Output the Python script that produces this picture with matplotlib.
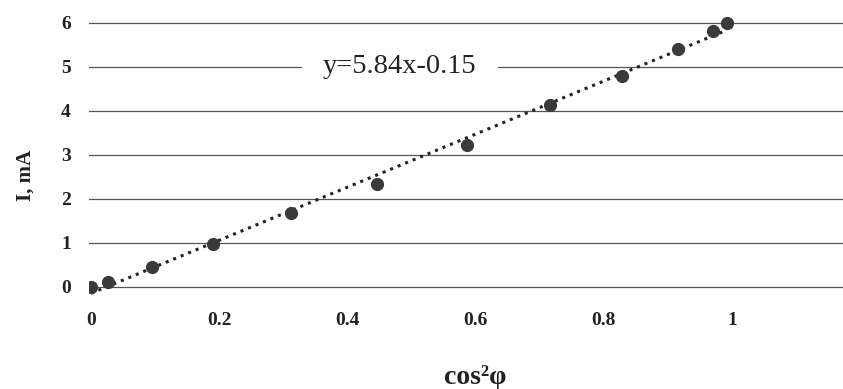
import numpy as np
import matplotlib
matplotlib.use("Agg")
import matplotlib.pyplot as plt

# data
cos2_phi = [0.0, 0.027, 0.095, 0.19, 0.312, 0.446, 0.587, 0.716, 0.828, 0.916, 0.970, 0.992]
current_mA = [0.0, 0.11, 0.45, 0.98, 1.68, 2.34, 3.22, 4.13, 4.79, 5.40, 5.81, 6.0]
x_ticks = [0, 0.2, 0.4, 0.6, 0.8, 1]
x_tick_labels = ["0", "0.2", "0.4", "0.6", "0.8", "1"]
y_ticks = [0, 1, 2, 3, 4, 5, 6]
equation = "y=5.84x-0.15"

plt.rcParams['font.family'] = ['Liberation Serif', 'DejaVu Serif']

W, H = 843, 389
fig = plt.figure(figsize=(W / 100, H / 100), dpi=100)

# axes placed so that x=0 sits at px 91, x=1 at px 732, y=0 at py 287, y=6 at py 23
ax_left, ax_right = 89, 843
ax_top, ax_bottom = 14, 298
ax = fig.add_axes([ax_left / W, (H - ax_bottom) / H,
                   (ax_right - ax_left) / W, (ax_bottom - ax_top) / H])
ax.set_xlim(-0.003, 1.173)
ax.set_ylim(-0.25, 6.2)

# horizontal grid lines
ax.set_yticks(y_ticks)
ax.set_xticks(x_ticks)
ax.set_xticklabels(x_tick_labels)
ax.yaxis.grid(True, color='#555555', linewidth=0.9)
ax.xaxis.grid(False)
ax.set_axisbelow(True)
for s in ax.spines.values():
    s.set_visible(False)
ax.tick_params(axis='both', length=0, labelsize=14, colors='#222222')
ax.tick_params(axis='x', pad=10)
ax.tick_params(axis='y', pad=13)
for lab in ax.get_xticklabels() + ax.get_yticklabels():
    lab.set_fontweight('bold')

# linear trendline through the points
k, b = np.polyfit(cos2_phi, current_mA, 1)
xs = np.array([min(cos2_phi), max(cos2_phi)])
ax.plot(xs, k * xs + b, linestyle=':', color='#222222', linewidth=2.2, zorder=3)

ax.plot(cos2_phi, current_mA, 'o', color='#3a3a3a', markersize=8.5, zorder=4)

# equation label, white box hides the grid line behind it
ax.text(0.482, 5.0, equation, fontsize=20.5, color='#222222',
        ha='center', va='center',
        bbox=dict(boxstyle='square,pad=0.75', facecolor='white', edgecolor='none'),
        zorder=5)

fig.text(475 / W, 1 - 377 / H, "cos²φ", fontsize=20, fontweight='bold',
         ha='center', va='center', color='#222222')
fig.text(26 / W, 1 - 175 / H, "I, mA", fontsize=15, fontweight='bold', rotation=90,
         ha='center', va='center', color='#222222')

fig.savefig("out.png", dpi=100, facecolor='white')
